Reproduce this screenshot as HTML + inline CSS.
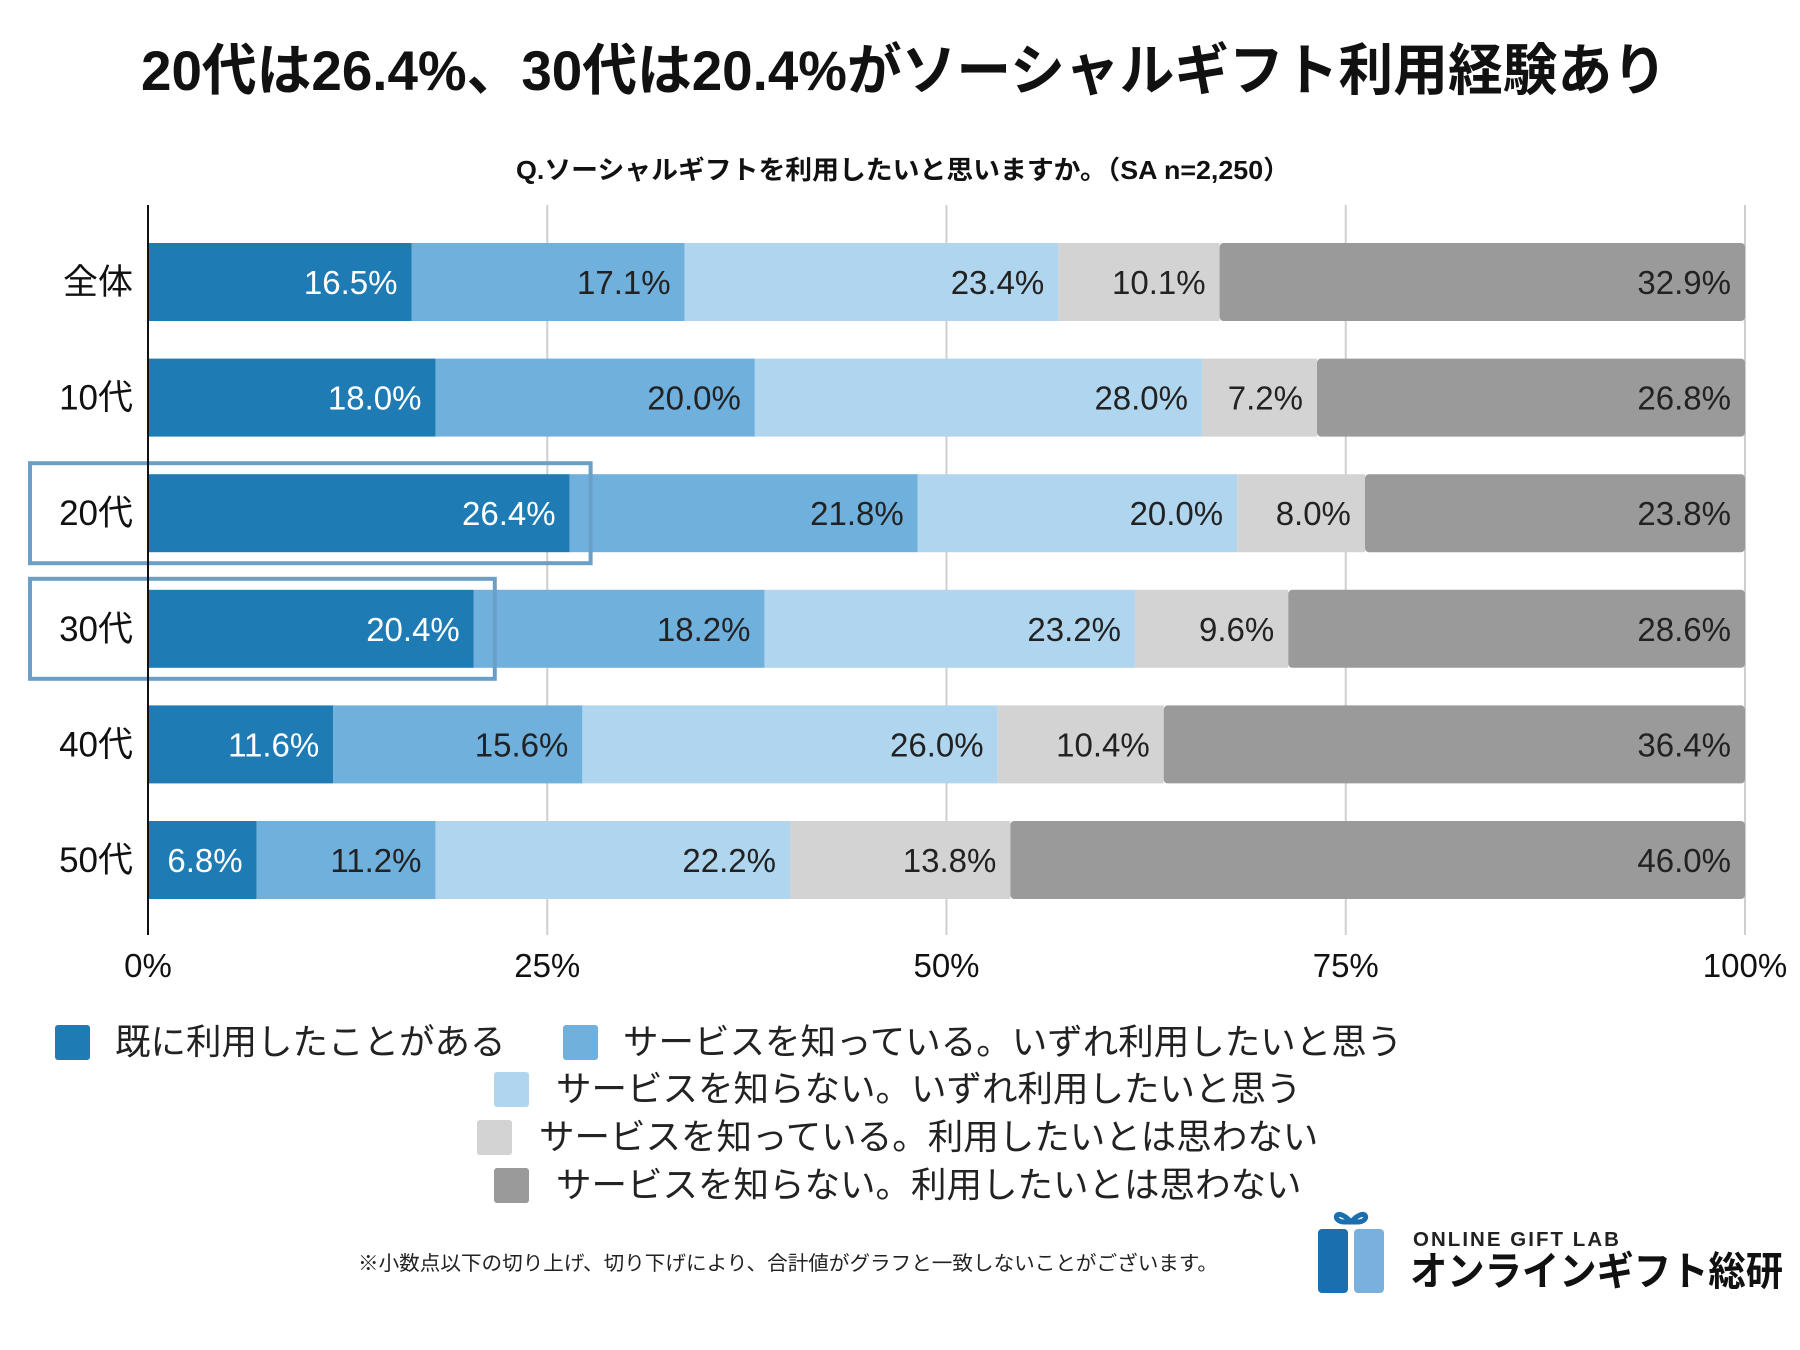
<!DOCTYPE html>
<html><head><meta charset="utf-8">
<style>
html,body{margin:0;padding:0;background:#fff;}
svg{display:block;font-family:"Liberation Sans","Noto Sans CJK JP",sans-serif;}
</style></head>
<body>
<svg id="chart" width="1800" height="1350" viewBox="0 0 1800 1350" xmlns="http://www.w3.org/2000/svg">
<rect width="1800" height="1350" fill="#fff"/>
<text x="904" y="90" text-anchor="middle" font-size="56" font-weight="bold" textLength="1526" lengthAdjust="spacingAndGlyphs" fill="#111">20代は26.4%、30代は20.4%がソーシャルギフト利用経験あり</text>
<text x="903" y="179" text-anchor="middle" font-size="26" font-weight="bold" textLength="774" lengthAdjust="spacingAndGlyphs" fill="#111">Q.ソーシャルギフトを利用したいと思いますか。（SA n=2,250）</text>
<g id="grid"></g>
<g id="bars"></g>
<g id="labels"></g>
<g id="legend"></g>
<text x="358" y="1270" font-size="20" fill="#222" textLength="860" lengthAdjust="spacingAndGlyphs">※小数点以下の切り上げ、切り下げにより、合計値がグラフと一致しないことがございます。</text>
<g>
  <rect x="1318" y="1229" width="30" height="64" rx="4" fill="#1a6fae"/>
  <rect x="1354" y="1229" width="30" height="64" rx="4" fill="#7ab1dc"/>
  <path d="M1351 1222 C1336 1205 1330 1222 1345 1222 Z M1351 1222 C1366 1205 1372 1222 1357 1222 Z" fill="none" stroke="#1a6fae" stroke-width="5"/>
  <text x="1413" y="1246" font-size="20" font-weight="bold" letter-spacing="2" fill="#222" textLength="208" lengthAdjust="spacingAndGlyphs">ONLINE GIFT LAB</text>
  <text x="1410" y="1285" font-size="40" font-weight="bold" fill="#111" textLength="373" lengthAdjust="spacingAndGlyphs">オンラインギフト総研</text>
</g>
</svg>
<script>
const categories = ["全体","10代","20代","30代","40代","50代"];
const seriesNames = ["既に利用したことがある","サービスを知っている。いずれ利用したいと思う","サービスを知らない。いずれ利用したいと思う","サービスを知っている。利用したいとは思わない","サービスを知らない。利用したいとは思わない"];
const s1 = [16.5,18.0,26.4,20.4,11.6,6.8];
const s2 = [17.1,20.0,21.8,18.2,15.6,11.2];
const s3 = [23.4,28.0,20.0,23.2,26.0,22.2];
const s4 = [10.1,7.2,8.0,9.6,10.4,13.8];
const s5 = [32.9,26.8,23.8,28.6,36.4,46.0];
const ticks = [0,25,50,75,100];
const highlighted = ["20代","30代"];

const NS="http://www.w3.org/2000/svg";
const colors=["#1f7bb4","#6fb0dc","#b0d5ee","#d3d3d3","#9a9a9a"];
const textColors=["#fff","#222","#222","#222","#222"];
const X0=148,X1=1745,Y0=282,STEP=115.6,BH=78;
function xs(v){return X0+(X1-X0)*v/100;}
function ys(i){return Y0+STEP*i;}
function mk(tag,attrs,parent){const e=document.createElementNS(NS,tag);for(const k in attrs)e.setAttribute(k,attrs[k]);parent.appendChild(e);return e;}
const grid=document.getElementById('grid'),bars=document.getElementById('bars'),labels=document.getElementById('labels'),legend=document.getElementById('legend');
ticks.forEach(t=>{
  const l=mk('line',{x1:xs(t),x2:xs(t),y1:205,y2:935,stroke:'#cfcfcf','stroke-width':2},grid);
  
  
  const tx=mk('text',{x:xs(t),y:977,'text-anchor':'middle','font-size':33,fill:'#111'},grid);
  tx.textContent=t+'%';
  
  
});
const series=[s1,s2,s3,s4,s5];
categories.forEach((c,i)=>{
  const cy=ys(i);
  let acc=0;
  series.forEach((s,k)=>{
    const v=s[i];
    const xa=xs(acc),xb=xs(acc+v);
    const r=mk('rect',{x:xa,y:cy-BH/2,width:Math.max(0,xb-xa),height:BH,fill:colors[k]},bars);
    if(k===4){r.setAttribute('rx',4);}
    
    
    const t=mk('text',{x:xb-14,y:cy+12,'text-anchor':'end','font-size':33,fill:textColors[k]},labels);
    t.textContent=v.toFixed(1)+'%';
    
    
    acc+=v;
  });
  const cl=mk('text',{x:133,y:cy+12,'text-anchor':'end','font-size':35,fill:'#111'},labels);
  cl.textContent=c;
  
  
  if(highlighted.includes(c)){
    const hb=mk('rect',{x:30,y:cy-50,width:xs(s1[i])+21-30,height:100,fill:'none',stroke:'#6a9fc8','stroke-width':4},labels);
    
    
  }
});
const axis=mk('line',{x1:X0,x2:X0,y1:205,y2:935,stroke:'#111','stroke-width':2},labels);


const legPos=[[55,1042],[563,1042],[494,1089],[477,1137],[494,1185]];
seriesNames.forEach((n,k)=>{
  const [lx,ly]=legPos[k];
  const sq=mk('rect',{x:lx,y:ly-17,width:35,height:35,rx:3,fill:colors[k]},legend);
  
  
  const t=mk('text',{x:lx+(k===0?60:(k===1?60:62)),y:ly+12,'font-size':35.5,fill:'#222'},legend);
  t.textContent=n;
  
  
});
</script>
</body></html>
